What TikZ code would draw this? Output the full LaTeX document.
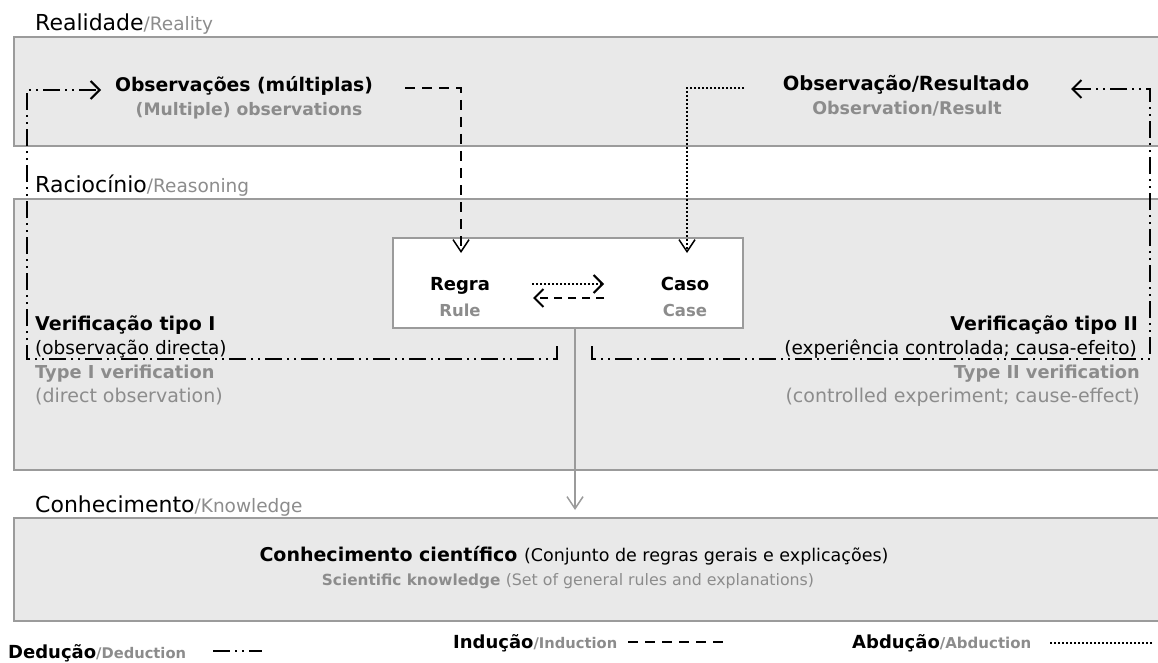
\documentclass[tikz,border=0pt]{standalone}
\usepackage{fontspec}
\setmainfont{DejaVu Sans}
\usetikzlibrary{arrows.meta}
\definecolor{boxfill}{RGB}{233,233,233}
\definecolor{boxline}{RGB}{155,155,155}
\definecolor{gtext}{RGB}{140,140,140}
\newcommand\fz[1]{\fontsize{#1}{#1}\selectfont}
\tikzset{
  layer/.style={draw=boxline, line width=2pt, fill=boxfill, anchor=north west, inner sep=0pt},
  innerbox/.style={draw=boxline, line width=2pt, fill=white, anchor=north west, inner sep=0pt},
  txt/.style={inner sep=0pt, anchor=base},
  deduc/.style={line width=2.5pt, dash pattern=on 17pt off 5pt on 2pt off 5pt on 2pt off 5pt},
  induc/.style={line width=2.5pt, dash pattern=on 10pt off 7pt},
  abduc/.style={line width=2pt, dash pattern=on 2pt off 2pt},
  barb/.style={-{Straight Barb[length=9pt,width=18pt,line width=2pt]}},
  vbarb/.style={-{Straight Barb[length=12pt,width=16pt,line width=1.5pt]}},
}
\begin{document}
\begin{tikzpicture}[x=1pt,y=-1pt]
\useasboundingbox (0,0) rectangle (1158,663);
% layers
\node[layer, minimum width=1160pt, minimum height=109pt] (real) at (13,36) {};
\node[layer, minimum width=1160pt, minimum height=271pt] (reas) at (13,198) {};
\node[layer, minimum width=1160pt, minimum height=103pt] (know) at (13,517) {};
\node[txt, anchor=base west] (lreal) at (35,31) {\fz{22}Realidade{\fz{18.5}\color{gtext}/Reality}};
\node[txt, anchor=base west] (lreas) at (35,193) {\fz{22}Raciocínio{\fz{18.5}\color{gtext}/Reasoning}};
\node[txt, anchor=base west] (lknow) at (35,512) {\fz{22}Conhecimento{\fz{18.5}\color{gtext}/Knowledge}};
% inner box
\node[innerbox, minimum width=350pt, minimum height=90pt] (rc) at (392,237) {};
\node[txt] (regra) at (460,290) {\fz{18}\bfseries Regra};
\node[txt] (rule) at (460,316) {\fz{16.5}\bfseries\color{gtext}Rule};
\node[txt] (caso) at (685,290) {\fz{18}\bfseries Caso};
\node[txt] (case) at (685,316) {\fz{16.5}\bfseries\color{gtext}Case};
% reality texts
\node[txt] (obsm) at (244,92) {\fz{18.8}\bfseries Observações (múltiplas)};
\node[txt] (obsme) at (249,116) {\fz{17.2}\bfseries\color{gtext}(Multiple) observations};
\node[txt] (obsr) at (906,91) {\fz{19.5}\bfseries Observação/Resultado};
\node[txt] (obsre) at (907,115) {\fz{17.5}\bfseries\color{gtext}Observation/Result};
% verification texts
\node[txt, anchor=base west] (v1) at (35,330) {\fz{19}\bfseries Verificação tipo I};
\node[txt, anchor=base west] (v1b) at (35,354) {\fz{18.5}(observação directa)};
\node[txt, anchor=base west] (v1c) at (35,378) {\fz{17.8}\bfseries\color{gtext}Type I verification};
\node[txt, anchor=base west] (v1d) at (35,402) {\fz{19}\color{gtext}(direct observation)};
\node[txt, anchor=base east] (v2) at (1138,330) {\fz{19}\bfseries Verificação tipo II};
\node[txt, anchor=base east] (v2b) at (1137,354) {\fz{18.5}(experiência controlada; causa-efeito)};
\node[txt, anchor=base east] (v2c) at (1140,378) {\fz{17.8}\bfseries\color{gtext}Type II verification};
\node[txt, anchor=base east] (v2d) at (1140,402) {\fz{19}\color{gtext}(controlled experiment; cause-effect)};
% knowledge texts
\node[txt] (ck) at (574,561) {\fz{19}\bfseries Conhecimento científico \mdseries\fz{17.5}(Conjunto de regras gerais e explicações)};
\node[txt] (sk) at (568,585) {\fz{15.3}\color{gtext}\bfseries Scientific knowledge \mdseries\fz{15.8}(Set of general rules and explanations)};
% legend
\node[txt, anchor=base west] (ld) at (8,658) {\fz{18}\bfseries Dedução{\fz{14.7}\color{gtext}/Deduction}};
\node[txt, anchor=base west] (li) at (453,648) {\fz{18}\bfseries Indução{\fz{14.7}\color{gtext}/Induction}};
\node[txt, anchor=base west] (la) at (852,648) {\fz{18}\bfseries Abdução{\fz{15}\color{gtext}/Abduction}};
\coordinate (ld0) at (213,651); \coordinate (ld1) at (262,651);
\coordinate (li0) at (628,642); \coordinate (li1) at (730,642);
\coordinate (la0) at (1050,643); \coordinate (la1) at (1152,643);
\draw[deduc] (ld0) -- (ld1);
\draw[induc] (li0) -- (li1);
\draw[abduc] (la0) -- (la1);
% connector coordinates
\coordinate (indS) at (405,88);
\coordinate (indT) at (461,253);
\coordinate (abdS) at (744,88);
\coordinate (abdT) at (687,253);
\coordinate (d1S) at (557,346);
\coordinate (d1T) at (101,90);
\coordinate (d2S) at (592,346);
\coordinate (d2T) at (1071,89);
\coordinate (rcA) at (532,284);
\coordinate (rcB) at (604,284);
\coordinate (rcC) at (604,298);
\coordinate (rcD) at (533,298);
\coordinate (kT) at (575,510);
% connectors
\draw[induc, vbarb] (indS) -| (indT);
\draw[abduc, vbarb] (abdS) -| (abdT);
\draw[deduc, barb] (d1S) -- (557,359) -- (27,359) -- (27,90) -- (d1T);
\draw[deduc, barb] (d2S) -- (592,359) -- (1150,359) -- (1150,89) -- (d2T);
\draw[abduc, barb] (rcA) -- (rcB);
\draw[induc, line width=2pt, dash pattern=on 8pt off 6pt, barb] (rcC) -- (rcD);
\draw[boxline, line width=1.5pt, vbarb] (rc.south -| kT) -- (kT);
\end{tikzpicture}
\end{document}
